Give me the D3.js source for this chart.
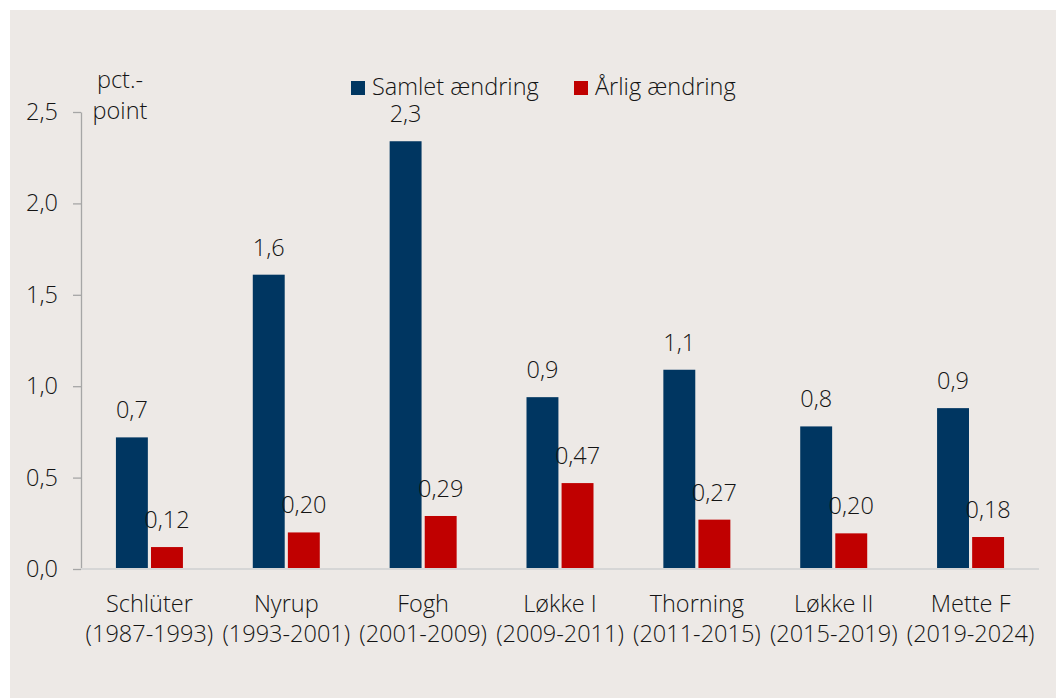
<!DOCTYPE html>
<html>
<head>
<meta charset="utf-8">
<script src="https://cdn.jsdelivr.net/npm/d3@7"></script>
<style>
  html, body { margin: 0; padding: 0; background: #ffffff; }
  svg { display: block; }
  text { font-family: "Open Sans", "Noto Sans", sans-serif; font-weight: 300; fill: #141414; }
</style>
</head>
<body>
<svg id="chart" width="1056" height="698"></svg>
<script>
const categories = ["Schlüter", "Nyrup", "Fogh", "Løkke I", "Thorning", "Løkke II", "Mette F"];
const periods = ["(1987-1993)", "(1993-2001)", "(2001-2009)", "(2009-2011)", "(2011-2015)", "(2015-2019)", "(2019-2024)"];
const seriesNames = ["Samlet ændring", "Årlig ændring"];
const samlet = [0.72, 1.61, 2.34, 0.94, 1.09, 0.78, 0.88];
const aarlig = [0.12, 0.20, 0.29, 0.47, 0.27, 0.195, 0.175];
const samletLabels = ["0,7", "1,6", "2,3", "0,9", "1,1", "0,8", "0,9"];
const aarligLabels = ["0,12", "0,20", "0,29", "0,47", "0,27", "0,20", "0,18"];
const yTicks = [0, 0.5, 1.0, 1.5, 2.0, 2.5];
const colors = ["#003661", "#c00000"];

const FS = 23.5;
const svg = d3.select("#chart");
svg.append("rect").attr("x", 10).attr("y", 10).attr("width", 1046).attr("height", 688).attr("fill", "#ede9e6");

const x0 = d3.scaleBand().domain(categories).range([81, 1039]).paddingInner(0).paddingOuter(0);
const x1 = d3.scaleBand().domain(seriesNames).range([0, 67]).paddingInner(0.09);
const y = d3.scaleLinear().domain([0, 2.5]).range([569, 112]);
const fmt = v => d3.format(".1f")(v).replace(".", ",");

// y axis
const yAxis = svg.append("g").attr("transform", "translate(81,0)")
  .call(d3.axisLeft(y).tickValues(yTicks).tickFormat(fmt).tickSize(8).tickSizeOuter(0).tickPadding(15));
yAxis.select(".domain").attr("stroke", "#a6a6a6").attr("stroke-width", 1.3);
yAxis.selectAll(".tick line").attr("stroke", "#a6a6a6").attr("stroke-width", 1.3);
yAxis.selectAll(".tick text").attr("font-size", FS).attr("font-family", "Open Sans").attr("font-weight", 300).attr("fill", "#141414");

const data = categories.map((c, i) => ({cat: c, vals: [
  {s: seriesNames[0], v: samlet[i], lab: samletLabels[i]},
  {s: seriesNames[1], v: aarlig[i], lab: aarligLabels[i]}
]}));

const groups = svg.append("g").selectAll("g").data(data).join("g")
  .attr("transform", d => `translate(${x0(d.cat) + x0.bandwidth() / 2 - 33.5},0)`);

groups.selectAll("rect").data(d => d.vals).join("rect")
  .attr("x", d => x1(d.s))
  .attr("width", x1.bandwidth())
  .attr("y", d => y(d.v))
  .attr("height", d => y(0) - y(d.v))
  .attr("fill", (d, i) => colors[i]);

groups.selectAll("text.val").data(d => d.vals).join("text")
  .attr("class", "val")
  .attr("x", d => x1(d.s) + x1.bandwidth() / 2)
  .attr("y", d => y(d.v) - 19)
  .attr("text-anchor", "middle")
  .attr("font-size", FS)
  .text(d => d.lab);

// baseline
svg.append("line").attr("x1", 81).attr("x2", 1039).attr("y1", y(0)).attr("y2", y(0))
  .attr("stroke", "#d6d6d6").attr("stroke-width", 2);

// x labels
const xl = svg.append("g").selectAll("text").data(categories).join("text")
  .attr("text-anchor", "middle")
  .attr("font-size", FS)
  .attr("transform", d => `translate(${x0(d) + x0.bandwidth() / 2},0)`);
xl.append("tspan").attr("x", 0).attr("y", 612).text(d => d);
xl.append("tspan").attr("x", 0).attr("y", 642).text((d, i) => periods[i]);

// y title
svg.append("text").attr("x", 120).attr("y", 88).attr("text-anchor", "middle").attr("font-size", FS).text("pct.-");
svg.append("text").attr("x", 120).attr("y", 119).attr("text-anchor", "middle").attr("font-size", FS).text("point");

// legend
const legX = [351, 574];
const leg = svg.append("g").selectAll("g").data(seriesNames).join("g")
  .attr("transform", (d, i) => `translate(${legX[i]},0)`);
leg.append("rect").attr("x", 0).attr("y", 81).attr("width", 14).attr("height", 14).attr("fill", (d, i) => colors[i]);
leg.append("text").attr("x", 21).attr("y", 95).attr("font-size", FS).text(d => d);
</script>
</body>
</html>
